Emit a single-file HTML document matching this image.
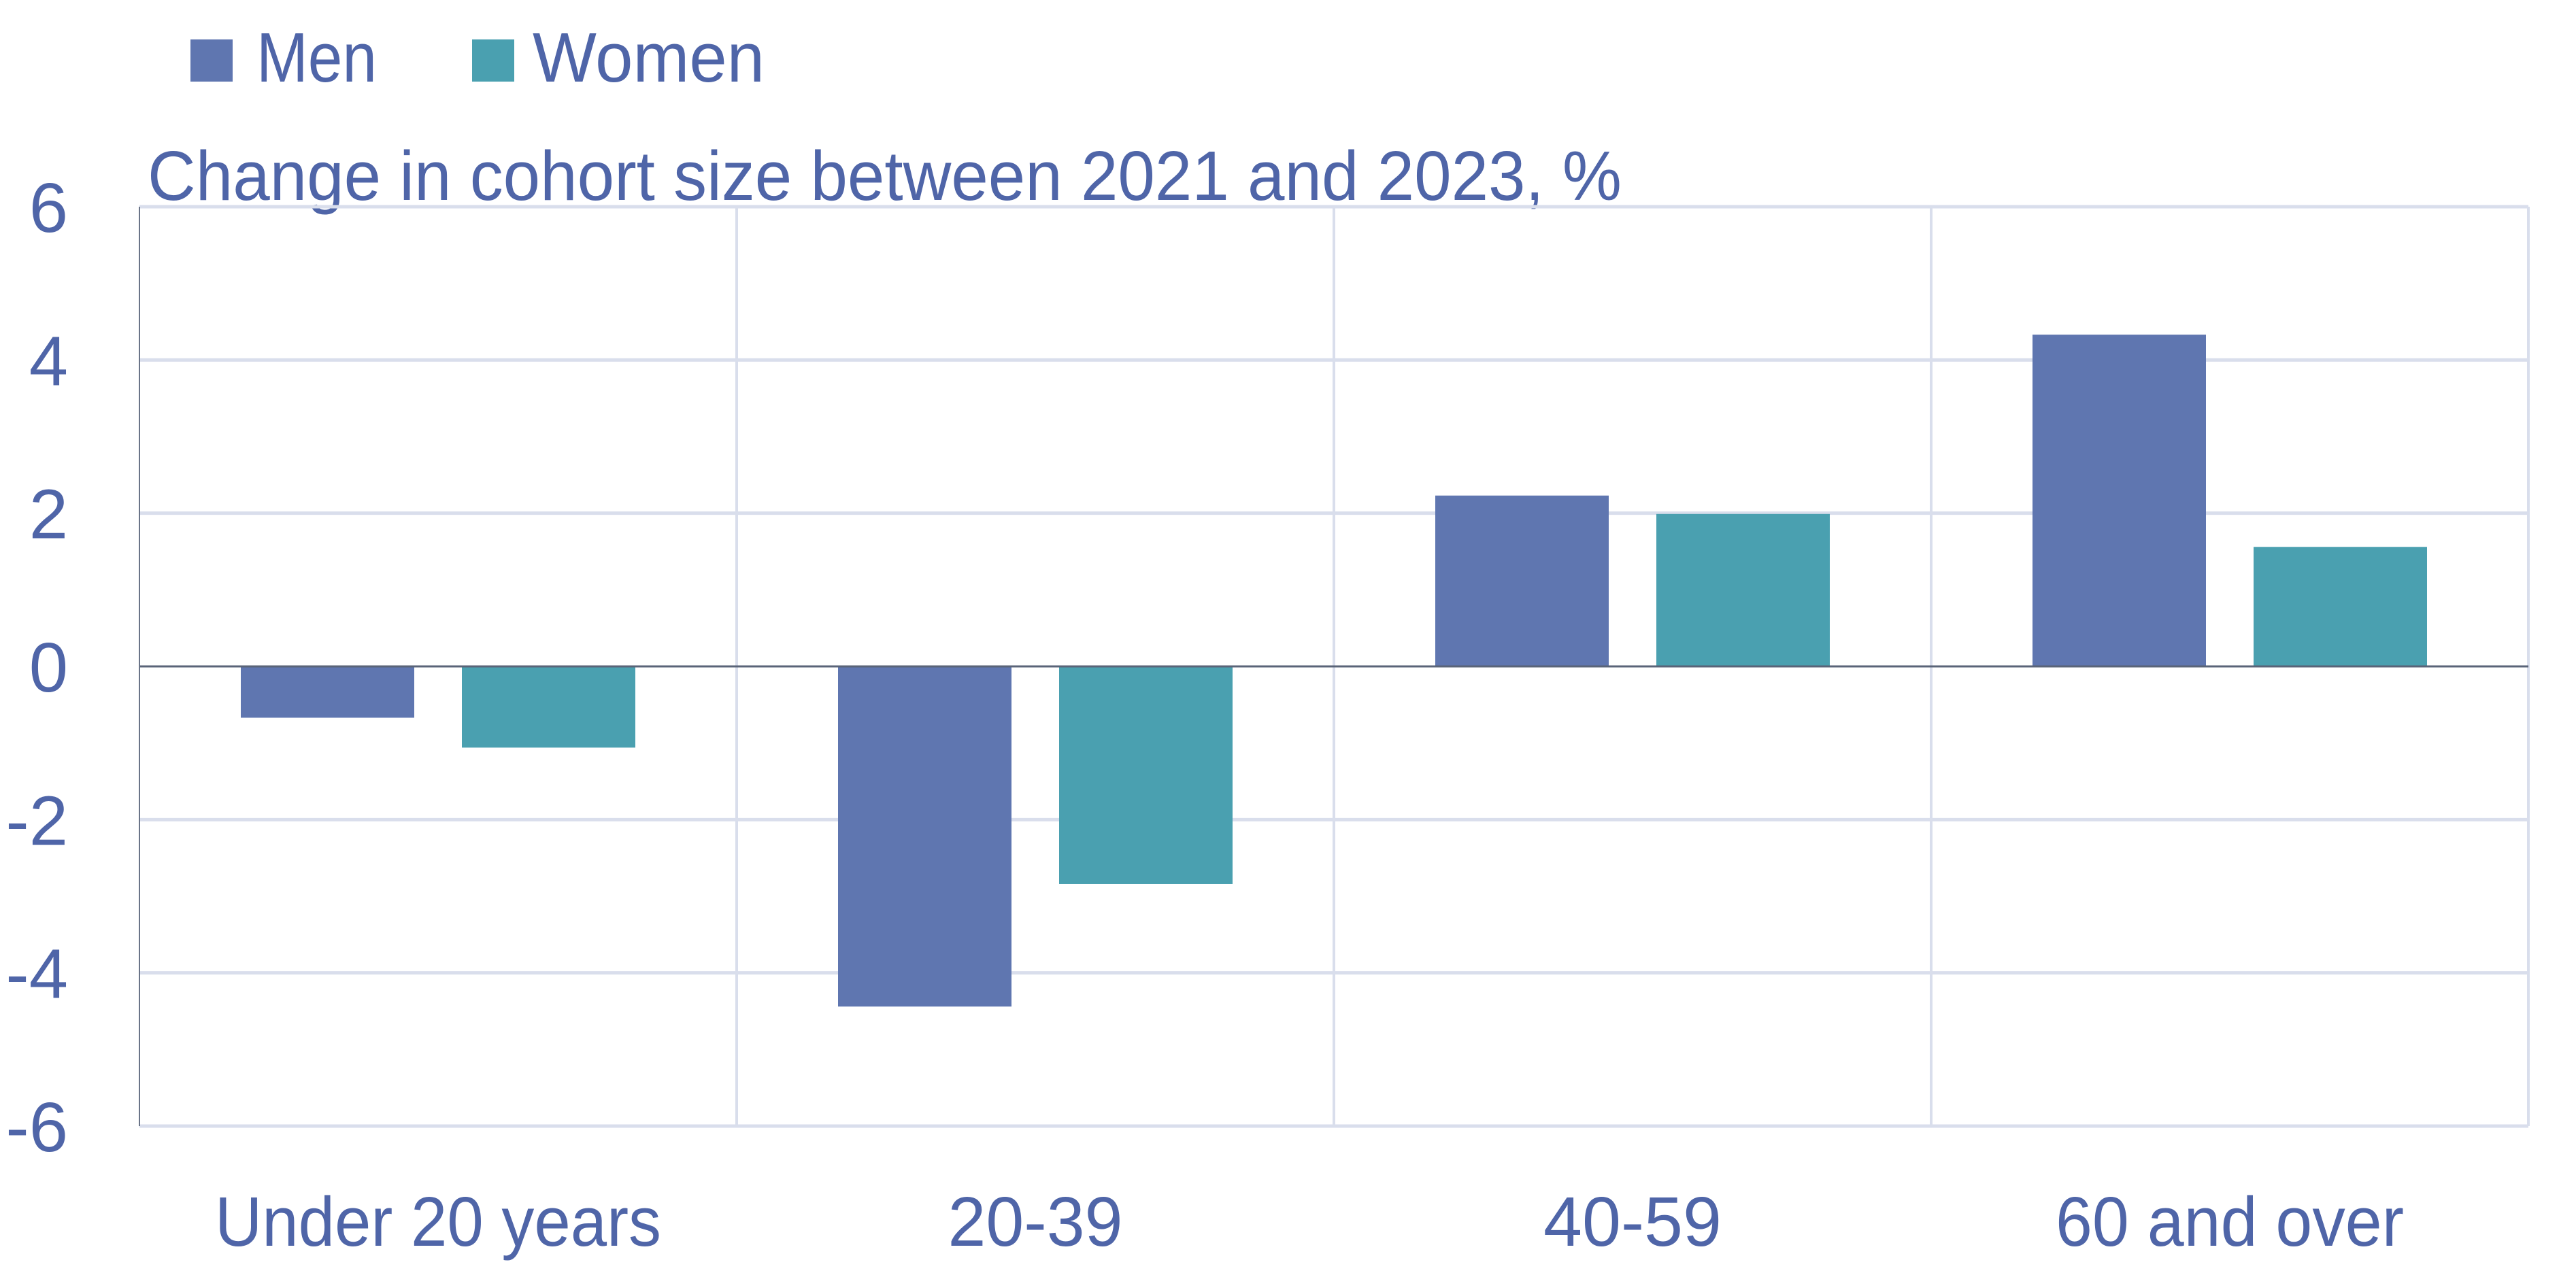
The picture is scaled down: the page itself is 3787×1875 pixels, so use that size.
<!DOCTYPE html>
<html><head><meta charset="utf-8"><style>
html,body{margin:0;padding:0;background:#fff;}
svg{display:block;}
text{font-family:"Liberation Sans",sans-serif;fill:#4F65A8;}
</style></head><body>
<svg id="chart" width="3787" height="1875" viewBox="0 0 3787 1875" xmlns="http://www.w3.org/2000/svg">
<g>
<rect x="280" y="58" width="62" height="62" fill="#5F76B0"/>
<text x="377" y="120" font-size="103" textLength="177" lengthAdjust="spacingAndGlyphs">Men</text>
<rect x="694" y="58" width="62" height="62" fill="#4AA0B0"/>
<text x="783" y="120" font-size="103" textLength="341" lengthAdjust="spacingAndGlyphs">Women</text>
</g>
<text x="217" y="294" font-size="103" textLength="2167" lengthAdjust="spacingAndGlyphs">Change in cohort size between 2021 and 2023, %</text>
<g id="grid"></g>
<g id="bars"></g>
<g id="axes"></g>
</svg>
<script>
const categories = ["Under 20 years", "20-39", "40-59", "60 and over"];
const menValues = [-0.67, -4.44, 2.23, 4.33];
const womenValues = [-1.06, -2.84, 1.99, 1.56];
const yTicks = [6, 4, 2, 0, -2, -4, -6];
const xLabelWidths = [656, 257, 262, 512];

const NS = "http://www.w3.org/2000/svg";
const plotL = 205, plotR = 3717, plotT = 304, plotB = 1656;
const yMin = -6, yMax = 6;
const catW = (plotR - plotL) / categories.length;
function yScale(v){ return plotT + (yMax - v) / (yMax - yMin) * (plotB - plotT); }
function xCat(i){ return plotL + i * catW; }
function mk(tag, attrs, parent){
  const e = document.createElementNS(NS, tag);
  for (const k in attrs) e.setAttribute(k, attrs[k]);
  parent.appendChild(e);
  return e;
}
const grid = document.getElementById('grid');
const bars = document.getElementById('bars');
const axes = document.getElementById('axes');

yTicks.forEach(t => {
  const y = yScale(t);
  if (t !== 0) {
    const l = mk('line', {x1: plotL, x2: plotR, y1: y, y2: y, stroke: '#D9DEEC', 'stroke-width': 5}, grid);
    
    
  }
  const tx = mk('text', {x: 100, y: y + 37, 'font-size': 103, 'text-anchor': 'end'}, axes);
  tx.textContent = String(t);
  
  
});
for (let i = 1; i <= categories.length; i++) {
  const x = xCat(i);
  const l = mk('line', {x1: x, x2: x, y1: plotT, y2: plotB, stroke: '#D9DEEC', 'stroke-width': 4}, grid);
  
  
}
const barW = 255, gap = 70, off = (catW - 2 * barW - gap) / 2;
categories.forEach((c, i) => {
  const series = [[menValues[i], '#5F76B0', 'bar-men'], [womenValues[i], '#4AA0B0', 'bar-women']];
  series.forEach((s, j) => {
    const y0 = yScale(0), y1 = yScale(s[0]);
    const r = mk('rect', {x: xCat(i) + off + j * (barW + gap), y: Math.min(y0, y1), width: barW, height: Math.abs(y1 - y0), fill: s[1]}, bars);
    
    
  });
  const t = mk('text', {x: xCat(i) + catW / 2, y: 1832, 'font-size': 103, 'text-anchor': 'middle', textLength: xLabelWidths[i], lengthAdjust: 'spacingAndGlyphs'}, axes);
  t.textContent = c;
  
  
});
const zl = mk('line', {x1: plotL, x2: plotR, y1: yScale(0), y2: yScale(0), stroke: '#5A6478', 'stroke-width': 3}, axes);


const ya = mk('line', {x1: plotL, x2: plotL, y1: plotT, y2: plotB, stroke: '#6A7488', 'stroke-width': 2}, axes);


</script>
</body></html>
